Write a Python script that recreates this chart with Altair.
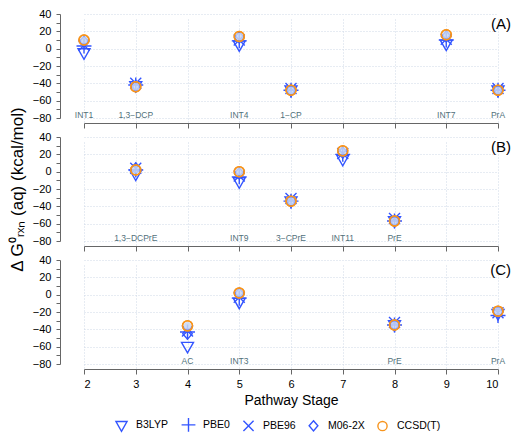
import altair as alt
import pandas as pd

methods = ["B3LYP", "PBE0", "PBE96", "M06-2X", "CCSD(T)"]

# Panel A
stages_A = [2, 3, 5, 6, 9, 10]
labels_A = ["INT1", "1,3\u2212DCP", "INT4", "1\u2212CP", "INT7", "PrA"]
b3lyp_A = [-5, -43, 4, -48, 5, -48]
pbe0_A = [3, -42, 9, -48, 10, -48]
pbe96_A = [4, -40, 10, -46, 11, -46]
m062x_A = [8, -43, 13, -48, 14, -48]
ccsd_A = [10, -44, 14, -48, 16, -48]

# Panel B
stages_B = [3, 5, 6, 7, 8]
labels_B = ["1,3\u2212DCPrE", "INT9", "3\u2212CPrE", "INT11", "PrE"]
b3lyp_B = [-3, -12, -34, 14, -57]
pbe0_B = [2, -6, -34, 20, -57]
pbe96_B = [4, -5, -31, 21, -54]
m062x_B = [4, -2, -34, 22, -57]
ccsd_B = [2, 0, -34, 24, -57]

# Panel C
stages_C = [4, 5, 8, 10]
labels_C = ["AC", "INT3", "PrE", "PrA"]
b3lyp_C = [-60, -9, -35, -22]
pbe0_C = [-43, -4, -35, -24]
pbe96_C = [-42, -3, -32, -21]
m062x_C = [-45, 1, -35, -20]
ccsd_C = [-36, 2, -35, -19]

panel_tags = ["(A)", "(B)", "(C)"]
label_y = -76
tag_y = 28
x_ticks = [2, 3, 4, 5, 6, 7, 8, 9, 10]
y_ticks = list(range(-80, 41, 10))

BLUE = "#3355ff"
ORANGE = "#f7941d"
W = 446
H = 109

shape_range = [
    "M-1.2,-0.85L1.2,-0.85L0,1.25Z",
    "M-1.5,0L1.5,0M0,-1.5L0,1.5",
    "M-1.1,-1.1L1.1,1.1M-1.1,1.1L1.1,-1.1",
    "M0,-1.1L0.95,0L0,1.1L-0.95,0Z",
    "circle",
]
color_range = [BLUE, BLUE, BLUE, BLUE, ORANGE]
GRID = "#cfd8e6"


def make_df(stages, series):
    rows = []
    for i, (m, vals) in enumerate(zip(methods, series)):
        for s, v in zip(stages, vals):
            rows.append({"stage": s, "value": v, "method": m, "ord": i})
    return pd.DataFrame(rows)


def panel(stages, labels, series, tag, bottom=False, ytitle=None):
    df = make_df(stages, series)
    lab = pd.DataFrame({"stage": stages, "label": labels, "y": [label_y] * len(stages)})
    tagdf = pd.DataFrame({"tag": [tag], "y": [tag_y]})

    xscale = alt.Scale(domain=[2, 10], range=[18, 432], nice=False, zero=False)
    yscale = alt.Scale(domain=[-80, 40], range=[104, 0], nice=False, zero=False)

    if bottom:
        xaxis = alt.Axis(values=x_ticks, format="d", title="Pathway Stage", labelFontSize=11,
                         titleFontSize=14, titleFontWeight="normal", labelPadding=4,
                         titlePadding=4, tickSize=5, tickColor="#666", domainColor="#666",
                         grid=True, gridDash=[1, 2], gridColor=GRID,
                         labelColor="black", titleColor="black")
    else:
        xaxis = alt.Axis(values=x_ticks, title=None, labels=False, tickSize=5,
                         tickColor="#666", domainColor="#666",
                         grid=True, gridDash=[1, 2], gridColor=GRID)

    yaxis = alt.Axis(values=y_ticks,
                     labelExpr="(datum.value == 40 || datum.value == 20 || datum.value == 0 || datum.value == -20 || datum.value == -40 || datum.value == -60 || datum.value == -80) ? datum.label : ''",
                     labelOverlap=False,
                     title=ytitle, titleFontSize=17, titleFontWeight="normal",
                     titleColor="black", titlePadding=6,
                     labelFontSize=11, labelPadding=5, labelColor="black",
                     tickSize=4, offset=6, tickColor="#666", domainColor="#666",
                     grid=True, gridDash=[1, 2], gridColor=GRID,
                     gridOpacity={"condition": {"test": "datum.value % 20 == 0", "value": 1}, "value": 0})

    X = lambda f: alt.X(f, scale=xscale, axis=xaxis)
    Y = lambda f: alt.Y(f, scale=yscale, axis=yaxis)

    pts = alt.Chart(df).mark_point(filled=False, strokeWidth=1.4, opacity=1, size=100).encode(
        x=X("stage:Q"),
        y=Y("value:Q"),
        color=alt.Color("method:N", scale=alt.Scale(domain=methods, range=color_range),
                        legend=alt.Legend(title=None)),
        shape=alt.Shape("method:N", scale=alt.Scale(domain=methods, range=shape_range),
                        legend=alt.Legend(title=None)),
        order=alt.Order("ord:Q"),
    )

    ccsd = df[df.method == "CCSD(T)"]
    fill = alt.Chart(ccsd).mark_circle(
        color="#c9d7f2", opacity=0.85, size=60
    ).encode(x=X("stage:Q"), y=Y("value:Q"))

    ring = alt.Chart(ccsd).mark_point(
        filled=False, color=ORANGE, strokeWidth=1.5, size=100, shape="circle", opacity=1
    ).encode(x=X("stage:Q"), y=Y("value:Q"))

    txt = alt.Chart(lab).mark_text(fontSize=8.5, color="#51707a", baseline="middle").encode(
        x=X("stage:Q"), y=Y("y:Q"), text="label:N"
    )

    tg = alt.Chart(tagdf).mark_text(fontSize=15, color="black", align="right",
                                    baseline="middle").encode(
        x=alt.value(W - 1), y=Y("y:Q"), text="tag:N"
    )

    return alt.layer(pts, fill, ring, txt, tg).properties(width=W, height=H)


pA = panel(stages_A, labels_A, [b3lyp_A, pbe0_A, pbe96_A, m062x_A, ccsd_A], panel_tags[0])
pB = panel(stages_B, labels_B, [b3lyp_B, pbe0_B, pbe96_B, m062x_B, ccsd_B], panel_tags[1],
           ytitle="\u0394 G\u2070\u1d63\u2093\u2099 (aq) (kcal/mol)")
pC = panel(stages_C, labels_C, [b3lyp_C, pbe0_C, pbe96_C, m062x_C, ccsd_C], panel_tags[2],
           bottom=True)

chart = alt.vconcat(pA, pB, pC, spacing=14, bounds="flush").resolve_scale(
    color="shared", shape="shared"
).properties(padding=0).configure(
    font="Liberation Sans"
).configure_view(stroke=None).configure_legend(
    orient="none", legendX=50, legendY=405, direction="horizontal",
    labelFontSize=10.5, labelColor="black",
    symbolStrokeWidth=1.4, columnPadding=10, labelOffset=9,
    symbolSize=85
)

chart.save("out.html", embed_options={"renderer": "svg", "actions": False})
